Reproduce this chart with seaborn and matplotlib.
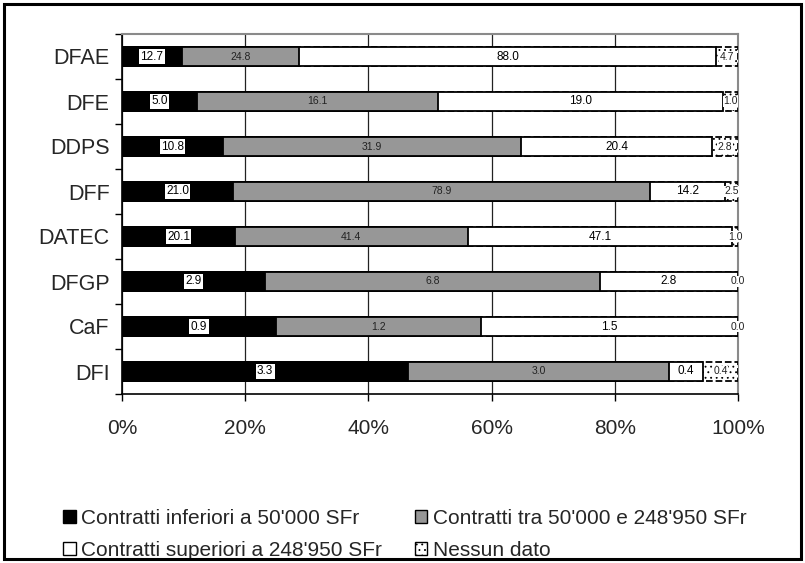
import numpy as np
import pandas as pd
import matplotlib
matplotlib.use("Agg")
import matplotlib.pyplot as plt
from matplotlib.patches import Rectangle, Patch
from matplotlib.ticker import FixedLocator, FuncFormatter
import seaborn as sns

# Values per department (millions of SFr), shown as shares of each department's total
categories = ["DFAE", "DFE", "DDPS", "DFF", "DATEC", "DFGP", "CaF", "DFI"]
inferiori = [12.7, 5.0, 10.8, 21.0, 20.1, 2.9, 0.9, 3.3]
tra = [24.8, 16.1, 31.9, 78.9, 41.4, 6.8, 1.2, 3.0]
superiori = [88.0, 19.0, 20.4, 14.2, 47.1, 2.8, 1.5, 0.4]
nessun = [4.7, 1.0, 2.8, 2.5, 1.0, 0.0, 0.0, 0.4]

series_names = [
    "Contratti inferiori a 50'000 SFr",
    "Contratti tra 50'000 e 248'950 SFr",
    "Contratti superiori a 248'950 SFr",
    "Nessun dato",
]

sns.set_style("white")
plt.rcParams["font.family"] = ["Liberation Sans", "DejaVu Sans"]
plt.rcParams["hatch.linewidth"] = 0.6

vals = np.array([inferiori, tra, superiori, nessun], dtype=float)
totals = vals.sum(axis=0)
pct = vals / totals * 100
cum = np.cumsum(pct, axis=0)
starts = cum - pct

df = pd.DataFrame({"cat": categories})
for i in range(4):
    df[f"c{i}"] = cum[i]

fig = plt.figure(figsize=(8.05, 5.63), dpi=100)
ax = fig.add_axes([122 / 805, 1 - 394 / 563, 616 / 805, 360 / 563])

grey = "#979797"
bw = 0.42
common = dict(y="cat", orient="h", width=bw, errorbar=None, ax=ax,
              edgecolor="black", linewidth=1.3, zorder=3)

# Stacked bars drawn as overlapping cumulative layers, widest first
sns.barplot(data=df, x="c3", color="white", hatch="...", linestyle="--", **common)
sns.barplot(data=df, x="c2", color="white", **common)
sns.barplot(data=df, x="c1", color=grey, **common)
sns.barplot(data=df, x="c0", color="black", **common)

ax.set_xlim(0, 100)
ax.set_ylim(7.5, -0.5)
ax.set_xlabel("")
ax.set_ylabel("")

# Segment value labels
for j in range(len(categories)):
    c0 = (starts[0, j] + cum[0, j]) / 2
    ax.text(c0, j, f"{vals[0, j]:.1f}", ha="center", va="center", fontsize=8.5,
            color="black", zorder=5,
            bbox=dict(boxstyle="square,pad=0.12", facecolor="white", edgecolor="none"))
    c1 = (starts[1, j] + cum[1, j]) / 2
    ax.text(c1, j, f"{vals[1, j]:.1f}", ha="center", va="center", fontsize=7.5,
            color="#222222", zorder=5)
    c2 = (starts[2, j] + cum[2, j]) / 2
    ax.text(c2, j, f"{vals[2, j]:.1f}", ha="center", va="center", fontsize=8.5,
            color="black", zorder=5)
    c3 = (starts[3, j] + cum[3, j]) / 2
    ax.text(c3, j, f"{vals[3, j]:.1f}", ha="center", va="center", fontsize=7.5,
            color="#222222", zorder=5, clip_on=False,
            bbox=dict(boxstyle="square,pad=0.05", facecolor="white", edgecolor="none"))

# Axes styling
ax.xaxis.set_major_locator(FixedLocator([0, 20, 40, 60, 80, 100]))
ax.xaxis.set_major_formatter(FuncFormatter(lambda v, _: f"{v:.0f}%"))
ax.grid(axis="x", color="#222222", linewidth=0.9, zorder=0)
ax.set_axisbelow(True)
ax.tick_params(axis="x", direction="out", length=5, width=1, color="black",
               labelsize=15, pad=13, bottom=True)
ax.tick_params(axis="y", which="major", length=0, labelsize=15.5, pad=9, left=False)
ax.yaxis.set_minor_locator(FixedLocator(np.arange(-0.5, 8.0, 1.0)))
ax.tick_params(axis="y", which="minor", direction="out", length=5, width=1,
               color="black", left=True)
for side in ("left", "bottom"):
    ax.spines[side].set_color("black")
    ax.spines[side].set_linewidth(1.2)
for side in ("top", "right"):
    ax.spines[side].set_color("#8a8a8a")
    ax.spines[side].set_linewidth(1.5)

# Legend
handles = [
    Patch(facecolor="black", edgecolor="black", label=series_names[0]),
    Patch(facecolor="white", edgecolor="black", label=series_names[2]),
    Patch(facecolor=grey, edgecolor="black", label=series_names[1]),
    Patch(facecolor="white", edgecolor="black", hatch="...", label=series_names[3]),
]
fig.legend(handles=handles, ncol=2, loc="upper left",
           bbox_to_anchor=(63 / 805, 1 - 509 / 563), frameon=False,
           fontsize=15, handlelength=0.6, handleheight=0.6,
           handletextpad=0.25, columnspacing=1.6, labelspacing=0.62,
           borderaxespad=0, borderpad=0)

# Outer frame around the whole figure
fig.patches.append(Rectangle((4 / 805, 4 / 563), 797 / 805, 555 / 563,
                             transform=fig.transFigure, fill=False,
                             edgecolor="black", linewidth=2.2, zorder=10))

fig.savefig("out.png", dpi=100)
